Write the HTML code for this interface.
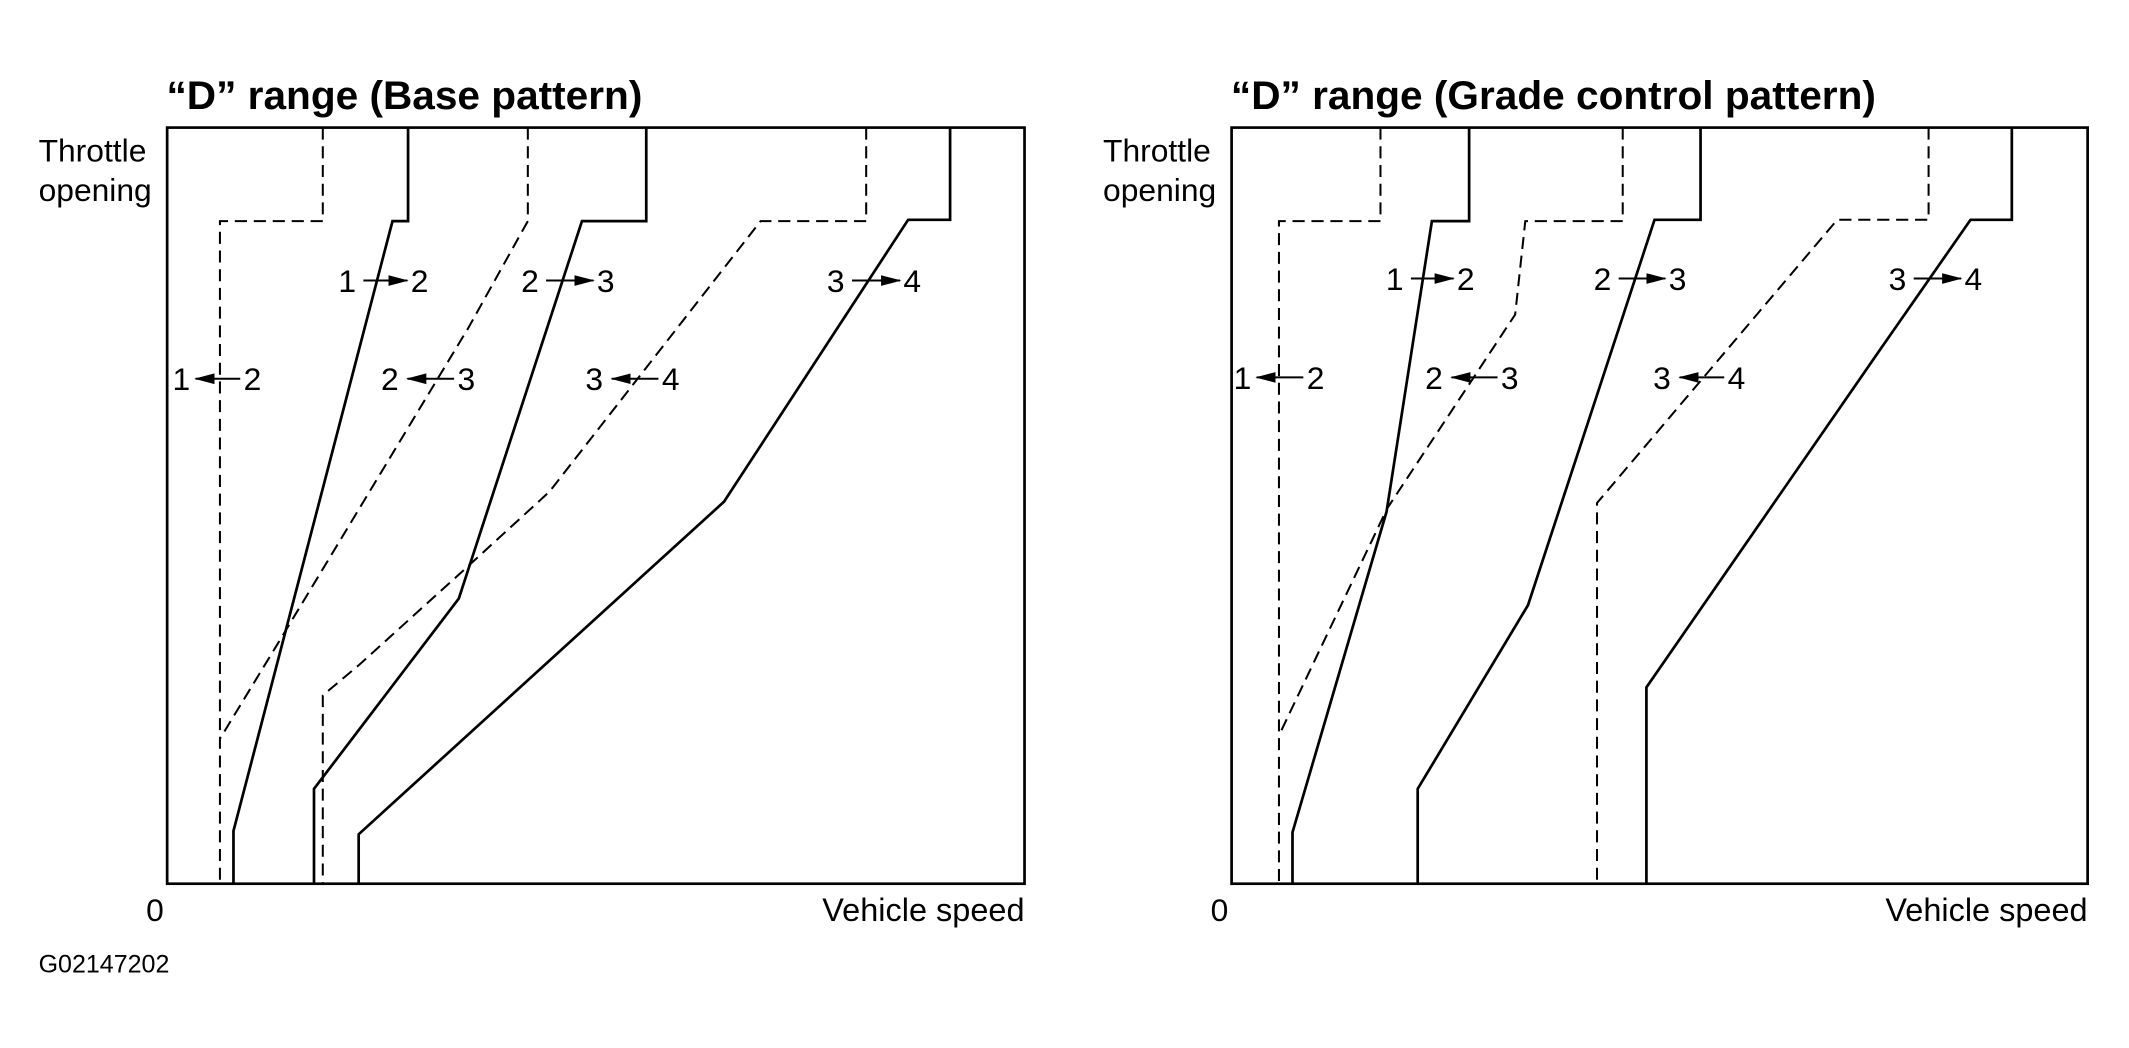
<!DOCTYPE html>
<html><head><meta charset="utf-8"><style>html,body{margin:0;padding:0;background:#fff}svg{display:block}</style></head>
<body>
<svg width="2129" height="1048" viewBox="0 0 3121 1536" preserveAspectRatio="none" xmlns="http://www.w3.org/2000/svg">
<defs>
<marker id="ah" markerUnits="userSpaceOnUse" markerWidth="30" markerHeight="20" refX="28" refY="10" orient="auto"><path d="M0,2 L30,10 L0,18 Z" fill="#000"/></marker>
</defs>
<g font-family="Liberation Sans, Arial, sans-serif" fill="#000" transform="matrix(0.992 0 0 0.979 2 1)">
<!-- LEFT -->
<g>
<text x="244" y="162" font-size="60" font-weight="bold">“D” range (Base pattern)</text>
<text x="55" y="241" font-size="47">Throttle</text>
<text x="55" y="300" font-size="47">opening</text>
<text x="214" y="1378" font-size="47">0</text>
<text x="1512" y="1378" font-size="48" text-anchor="end">Vehicle speed</text>
<text x="55" y="1455" font-size="37">G02147202</text>
<g fill="none" stroke="#000">
<rect x="245" y="190" width="1267" height="1132" stroke-width="4"/>
<g stroke-width="3" stroke-dasharray="18 10">
<polyline points="475,190 475,330 323,330 323,1322"/>
<polyline points="778,190 778,330 690,490 410,960 323,1105"/>
<polyline points="1278,190 1278,330 1122,330 810,735 686,850 528,995 475,1040 475,1322"/>
</g>
<g stroke-width="4">
<polyline points="601,190 601,330 578,330 343,1243 343,1322"/>
<polyline points="953,190 953,330 858,330 676,895 462,1180 462,1322"/>
<polyline points="1402,190 1402,328 1340,328 1068,750 528,1248 528,1322"/>
</g>
<g stroke-width="3">
<line x1="535" y1="419" x2="600" y2="419" marker-end="url(#ah)"/>
<line x1="805" y1="419" x2="875" y2="419" marker-end="url(#ah)"/>
<line x1="1257" y1="419" x2="1328" y2="419" marker-end="url(#ah)"/>
<line x1="353" y1="566" x2="287" y2="566" marker-end="url(#ah)"/>
<line x1="669" y1="566" x2="600" y2="566" marker-end="url(#ah)"/>
<line x1="971" y1="566" x2="902" y2="566" marker-end="url(#ah)"/>
</g>
</g>
<g font-size="47">
<text x="498" y="436">1</text><text x="605" y="436">2</text>
<text x="768" y="436">2</text><text x="880" y="436">3</text>
<text x="1220" y="436">3</text><text x="1333" y="436">4</text>
<text x="253" y="583">1</text><text x="358" y="583">2</text>
<text x="561" y="583">2</text><text x="674" y="583">3</text>
<text x="863" y="583">3</text><text x="976" y="583">4</text>
</g>
</g>
<!-- RIGHT -->
<g transform="translate(1573,0)">
<text x="244" y="162" font-size="60" font-weight="bold">“D” range (Grade control pattern)</text>
<text x="55" y="241" font-size="47">Throttle</text>
<text x="55" y="300" font-size="47">opening</text>
<text x="214" y="1378" font-size="47">0</text>
<text x="1510" y="1378" font-size="48" text-anchor="end">Vehicle speed</text>
<g fill="none" stroke="#000">
<rect x="245" y="190" width="1265" height="1132" stroke-width="4"/>
<g stroke-width="3" stroke-dasharray="18 10">
<polyline points="465,190 465,330 315,330 315,1322"/>
<polyline points="823,190 823,330 679,330 664,470 475,760 315,1100"/>
<polyline points="1275,190 1275,328 1140,328 785,752 785,1322"/>
</g>
<g stroke-width="4">
<polyline points="596,190 596,330 541,330 474,765 335,1245 335,1322"/>
<polyline points="938,190 938,328 870,328 683,905 520,1180 520,1322"/>
<polyline points="1398,190 1398,328 1337,328 1205,520 858,1028 858,1322"/>
</g>
<g stroke-width="3">
<line x1="510" y1="416" x2="573" y2="416" marker-end="url(#ah)"/>
<line x1="817" y1="416" x2="886" y2="416" marker-end="url(#ah)"/>
<line x1="1253" y1="416" x2="1323" y2="416" marker-end="url(#ah)"/>
<line x1="351" y1="564" x2="282" y2="564" marker-end="url(#ah)"/>
<line x1="638" y1="564" x2="570" y2="564" marker-end="url(#ah)"/>
<line x1="973" y1="564" x2="907" y2="564" marker-end="url(#ah)"/>
</g>
</g>
<g font-size="47">
<text x="473" y="433">1</text><text x="578" y="433">2</text>
<text x="780" y="433">2</text><text x="891" y="433">3</text>
<text x="1216" y="433">3</text><text x="1328" y="433">4</text>
<text x="248" y="581">1</text><text x="356" y="581">2</text>
<text x="531" y="581">2</text><text x="643" y="581">3</text>
<text x="868" y="581">3</text><text x="978" y="581">4</text>
</g>
</g>
</g>
</svg>
</body></html>
